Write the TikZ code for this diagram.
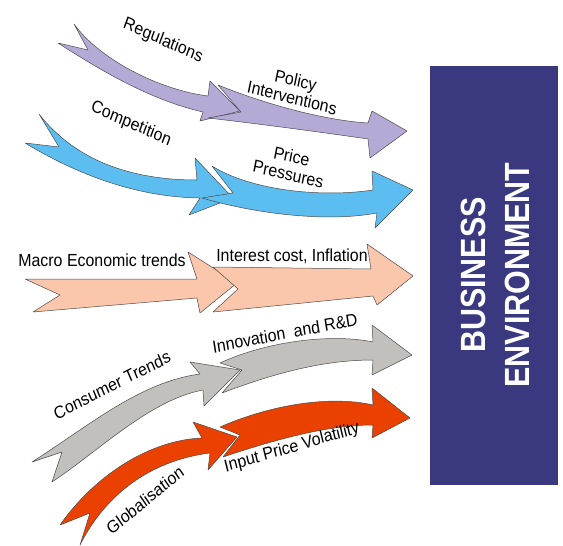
\documentclass[tikz,border=0pt]{standalone}
\usepackage{fontspec}
\setmainfont{Liberation Sans}
\usepackage{tikz}
\usepackage{xcolor}
\usetikzlibrary{positioning, calc}

\definecolor{lilac}{RGB}{181,169,214}
\definecolor{skyblue}{RGB}{92,190,240}
\definecolor{salmon}{RGB}{250,198,172}
\definecolor{stone}{RGB}{193,192,189}
\definecolor{flame}{RGB}{234,64,0}
\definecolor{envblue}{RGB}{58,56,126}

\begin{document}
\begin{tikzpicture}[x=1pt, y=-1pt,
  arr/.style={fill=#1, draw=black!70, line width=0.5pt, line join=round},
  lbl/.style={font=\fontsize{17.5}{18}\selectfont, inner sep=0pt, align=center, xscale=0.91},
  envtxt/.style={font=\fontsize{35}{36}\selectfont\bfseries, text=white, inner sep=0pt, rotate=90}]
  \useasboundingbox (0,0) rectangle (563,546);

  % Regulations -> Policy Interventions
  \draw[arr=lilac] (74,24) -- (88,50) -- (58,43) .. controls (100,70) and (150,100) .. (203,112)
    -- (200,121) -- (240,111) -- (210,81) -- (208,96) .. controls (160,90) and (100,60) .. cycle;
  \draw[arr=lilac] (218,85) -- (241,112) -- (208,118) .. controls (260,124) and (320,132) .. (368,139)
    -- (370,158) -- (407,131) -- (372,111) -- (368,123) .. controls (320,120) and (260,102) .. cycle;

  % Competition -> Price Pressures
  \draw[arr=skyblue] (39,114) -- (59,147) -- (25,143) .. controls (70,170) and (130,197) .. (200,198)
    -- (189,215) -- (233,198) -- (195,158) -- (197,180) .. controls (130,180) and (75,160) .. cycle;
  \draw[arr=skyblue] (212,166) -- (233,193) -- (202,198) .. controls (260,215) and (330,222) .. (377,213)
    -- (375,228) -- (413,190) -- (372,171) -- (373,190) .. controls (320,198) and (250,190) .. cycle;

  % Macro Economic trends -> Interest cost, Inflation
  \draw[arr=salmon] (25,279) -- (60,295) -- (33,312) -- (197,298)
    -- (200,313) -- (237,283) -- (188,252) -- (197,279) -- cycle;
  \draw[arr=salmon] (213,267) -- (238,289) -- (213,312) -- (373,296)
    -- (377,305) -- (413,276) -- (367,244) -- (371,269) -- cycle;

  % Consumer Trends -> Innovation and R&D
  \draw[arr=stone] (32,462) -- (62,452) -- (52,482) .. controls (100,450) and (150,400) .. (203,390)
    -- (204,406) -- (240,370) -- (190,362) -- (200,374) .. controls (140,382) and (90,425) .. cycle;
  \draw[arr=stone] (220,363) -- (242,370) -- (222,393) .. controls (270,375) and (320,360) .. (373,360)
    -- (372,375) -- (412,355) -- (372,325) -- (373,342) .. controls (330,333) and (265,342) .. cycle;

  % Globalisation -> Input Price Volatility
  \draw[arr=flame] (60,525) -- (90,513) -- (80,545) .. controls (100,505) and (140,462) .. (210,453)
    -- (208,470) -- (237,437) -- (193,422) -- (202,438) .. controls (150,440) and (95,475) .. cycle;
  \draw[arr=flame] (220,427) -- (240,435) -- (223,457) .. controls (280,438) and (330,425) .. (373,425)
    -- (372,438) -- (410,418) -- (372,388) -- (373,405) .. controls (330,395) and (270,405) .. cycle;

  % Labels
  \node[lbl, rotate=-22] (reg) at (163,41) {Regulations};
  \node[lbl, rotate=-13] (pol) at (294,89) {Policy\\Interventions};
  \node[lbl, rotate=-22] (comp) at (131,124) {Competition};
  \node[lbl, rotate=-12] (price) at (290,165) {Price\\Pressures};
  \node[lbl] (macro) at (102,260) {Macro Economic trends};
  \node[lbl] (infl) at (292,256) {Interest cost, Inflation};
  \node[lbl, rotate=25] (cons) at (112,385) {Consumer Trends};
  \node[lbl, rotate=10] (innov) at (285,333) {Innovation\ \ and R\&D};
  \node[lbl, rotate=37] (glob) at (145,500) {Globalisation};
  \node[lbl, rotate=15] (input) at (292,448) {Input Price Volatility};

  % Business environment panel
  \fill[envblue] (430,66) rectangle (558,485);
  \node[envtxt] (bus) at (473,275) {\scalebox{0.87}[1]{BUSINESS}};
  \node[envtxt] (env) at (517,275) {\scalebox{0.87}[1]{ENVIRONMENT}};
\end{tikzpicture}
\end{document}
